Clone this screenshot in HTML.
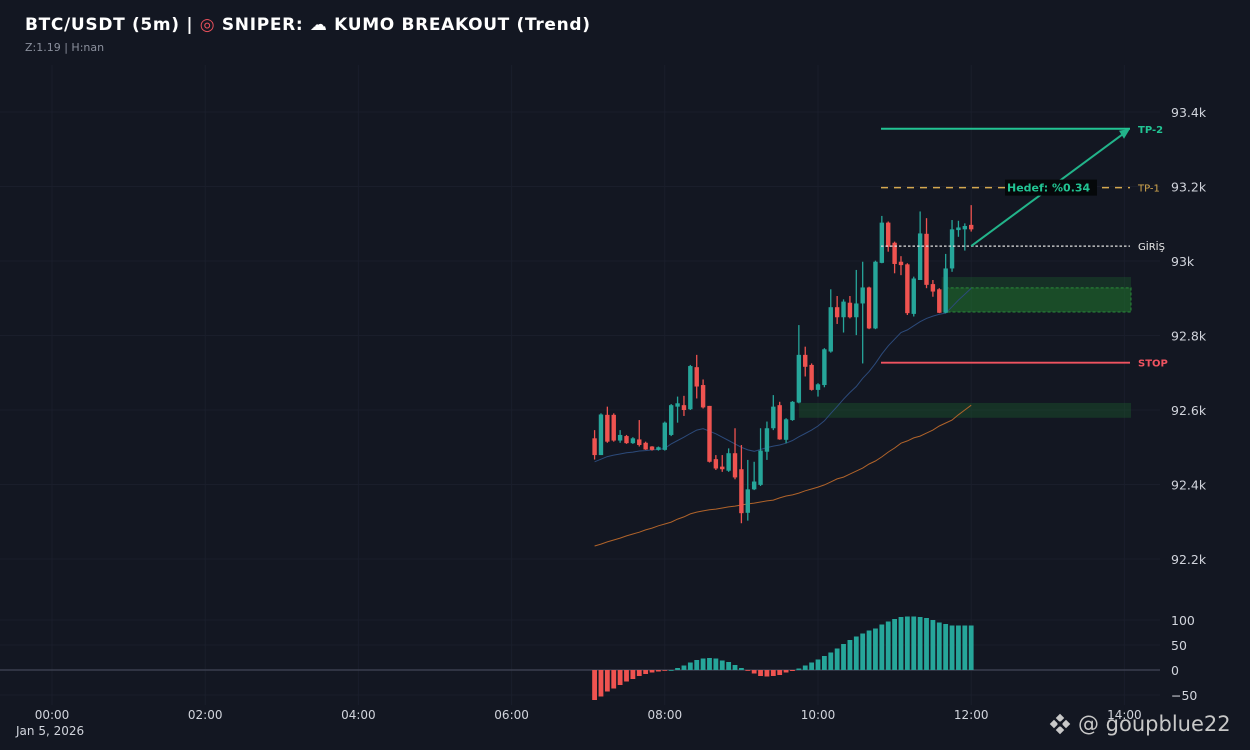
<!DOCTYPE html>
<html><head><meta charset="utf-8">
<style>
html,body{margin:0;padding:0;background:#131722;}
body{width:1250px;height:750px;overflow:hidden;font-family:"DejaVu Sans","Liberation Sans",sans-serif;}
svg{display:block}
</style></head>
<body>
<svg id="chart" width="1250" height="750" font-family="'DejaVu Sans','Liberation Sans',sans-serif">
  <rect x="0" y="0" width="1250" height="750" fill="#131722"/>
  <g id="grid"></g>
  <g id="zones"></g>
  <g id="mas"></g>
  <g id="candles"></g>
  <g id="hist"></g>
  <g id="levels"></g>
  <g id="axes"></g>
  <text x="25" y="30" fill="#ffffff" font-size="17" font-weight="bold" textLength="565" lengthAdjust="spacing">BTC/USDT (5m) | <tspan fill="#e8505b">◎</tspan> SNIPER: ☁ KUMO BREAKOUT (Trend)</text>
  <text x="25" y="51" fill="#8a8f9c" font-size="11">Z:1.19 | H:nan</text>
  <g>
    <g transform="translate(1060,724)" fill="#c8c8c8">
      <rect x="-3" y="-9" width="6" height="6" transform="rotate(45 0 -6)"/>
      <rect x="-3" y="3" width="6" height="6" transform="rotate(45 0 6)"/>
      <rect x="-9" y="-3" width="6" height="6" transform="rotate(45 -6 0)"/>
      <rect x="3" y="-3" width="6" height="6" transform="rotate(45 6 0)"/>
      <rect x="-2" y="-2" width="4" height="4" transform="rotate(45 0 0)" fill="#131722"/>
    </g>
    <text x="1078" y="731" fill="#c8c8c8" font-size="21">@ goupblue22</text>
  </g>
</svg>
<script>
// ---- data ----
const startMinutes = 425; // 07:05
const candleOpen = [92524,92479,92587,92587,92518,92530,92511,92521,92512,92502,92493,92493,92533,92609,92613,92602,92715,92667,92611,92468,92448,92437,92484,92441,92324,92387,92399,92488,92551,92613,92520,92573,92620,92748,92721,92654,92667,92757,92876,92849,92888,92849,92886,92929,92819,92995,93103,93049,92998,92991,92858,92949,93073,92938,92924,92861,92980,93083,93085,93097];
const candleHigh = [92546,92591,92609,92591,92546,92533,92527,92573,92515,92503,92502,92569,92616,92636,92638,92721,92748,92682,92611,92479,92479,92497,92551,92506,92466,92461,92551,92569,92640,92622,92578,92624,92828,92770,92725,92672,92766,92924,92906,92897,92906,92976,92998,92931,93001,93121,93106,93052,93013,92994,92958,93133,93115,92949,92927,93019,93110,93108,93101,93150];
const candleLow = [92467,92479,92512,92515,92512,92509,92509,92502,92493,92491,92491,92491,92530,92566,92584,92600,92631,92604,92459,92439,92434,92434,92414,92296,92303,92385,92396,92466,92546,92520,92511,92571,92618,92690,92652,92636,92661,92754,92831,92808,92846,92801,92725,92817,92817,92994,93025,92967,92962,92855,92851,92949,92927,92904,92860,92860,92971,93065,93028,93079];
const candleClose = [92479,92588,92515,92518,92533,92511,92524,92506,92494,92493,92500,92566,92613,92618,92600,92718,92663,92607,92461,92443,92441,92484,92419,92323,92387,92408,92491,92551,92609,92521,92575,92622,92748,92716,92654,92669,92763,92876,92849,92891,92849,92886,92929,92819,92998,93103,93038,92992,92989,92860,92953,93074,92936,92918,92861,92980,93085,93090,93094,93085];
const fastMA = [92461,92468,92475,92479,92482,92485,92487,92490,92491,92493,92494,92497,92509,92518,92527,92537,92546,92550,92543,92536,92527,92518,92509,92500,92493,92489,92494,92499,92503,92506,92511,92518,92528,92537,92546,92557,92571,92591,92609,92629,92647,92663,92685,92703,92725,92750,92772,92790,92808,92815,92826,92837,92846,92852,92857,92860,92877,92895,92911,92927];
const slowMA = [92235,92240,92246,92251,92256,92262,92267,92272,92278,92283,92289,92294,92299,92307,92313,92321,92326,92329,92332,92334,92337,92340,92342,92345,92348,92350,92353,92356,92358,92364,92369,92372,92377,92383,92388,92393,92399,92407,92415,92420,92428,92436,92444,92455,92463,92474,92487,92498,92511,92517,92525,92530,92538,92546,92557,92565,92573,92587,92600,92613];
const histValues = [-60,-53,-43,-37,-30,-23,-18,-12,-8,-5,-3,-1,0,4,9,15,20,23,24,23,19,16,10,4,-1,-7,-12,-13,-12,-10,-5,-2,3,9,15,21,28,35,43,52,60,67,73,79,83,91,97,102,106,107,107,106,104,100,95,92,89,89,89,89];
const priceTicks = [92200,92400,92600,92800,93000,93200,93400];
const priceTickLabels = ["92.2k","92.4k","92.6k","92.8k","93k","93.2k","93.4k"];
const histTicks = [-50,0,50,100];
const histTickLabels = ["−50","0","50","100"];
const timeTicks = [0,120,240,360,480,600,720,840];
const timeTickLabels = ["00:00","02:00","04:00","06:00","08:00","10:00","12:00","14:00"];
const levelEntry = 93040, levelTP1 = 93197, levelTP2 = 93355, levelStop = 92727;
const zoneUpper = [92863, 92957], zoneUpperInner = [92863, 92928], zoneLower = [92579, 92619];

// ---- scales ----
const NS='http://www.w3.org/2000/svg';
const xT = m => 52 + (m/60)*76.6;
const yP = p => 261 - (p-93000)*0.3725;
const yH = v => 670 - v*0.5;
function mk(tag, attrs, parent){const e=document.createElementNS(NS,tag);for(const k in attrs)e.setAttribute(k,attrs[k]);parent.appendChild(e);return e;}
const G=id=>document.getElementById(id);
const UP='#26a69a', DN='#ef5350';

timeTicks.forEach((t,i)=>{
  const x=xT(t);
  const l=mk('line',{x1:x,x2:x,y1:65,y2:705,stroke:'#1a1e2b','stroke-width':1},G('grid'));
  
  
  const tx=mk('text',{x:x,y:719,fill:'#d1d4dc','font-size':12,'text-anchor':'middle'},G('axes'));
  tx.textContent=timeTickLabels[i];
  
  
});
priceTicks.forEach((p,i)=>{
  const y=yP(p);
  const l=mk('line',{x1:0,x2:1160,y1:y,y2:y,stroke:'#1a1e2b','stroke-width':1},G('grid'));
  
  
  const tx=mk('text',{x:1171,y:y+5,fill:'#d1d4dc','font-size':12.5},G('axes'));
  tx.textContent=priceTickLabels[i];
  
  
});
histTicks.forEach((v,i)=>{
  const y=yH(v);
  const l=mk('line',{x1:0,x2:1160,y1:y,y2:y,stroke:v===0?'#3a3f4e':'#1a1e2b','stroke-width':v===0?1.5:1},G('grid'));
  
  
  const tx=mk('text',{x:1171,y:y+5,fill:'#d1d4dc','font-size':12.5},G('axes'));
  tx.textContent=histTickLabels[i];
  
  
});
const dl=mk('text',{x:16,y:735,fill:'#d1d4dc','font-size':12},G('axes'));
dl.textContent='Jan 5, 2026';



const zx1=xT(startMinutes+5*55), zx2=1131;
let z=mk('rect',{x:zx1-4,y:yP(zoneUpper[1]),width:zx2-zx1+4,height:yP(zoneUpper[0])-yP(zoneUpper[1]),fill:'rgba(30,110,50,0.3)'},G('zones'));


z=mk('rect',{x:zx1,y:yP(zoneUpperInner[1]),width:zx2-zx1,height:yP(zoneUpperInner[0])-yP(zoneUpperInner[1]),fill:'rgba(35,130,45,0.35)',stroke:'#2a8a3a','stroke-dasharray':'3,2','stroke-width':1},G('zones'));


z=mk('rect',{x:xT(startMinutes+5*32),y:yP(zoneLower[1]),width:zx2-xT(startMinutes+5*32),height:yP(zoneLower[0])-yP(zoneLower[1]),fill:'rgba(30,100,45,0.35)'},G('zones'));



function line(arr,color,name){
  const d=arr.map((v,i)=>(i?'L':'M')+xT(startMinutes+5*i).toFixed(1)+','+yP(v).toFixed(1)).join(' ');
  const p=mk('path',{d:d,fill:'none',stroke:color,'stroke-width':1},G('mas'));
  
  
}
line(fastMA,'#2c4a7a','fast-ma-line');
line(slowMA,'#b0632a','slow-ma-line');

candleOpen.forEach((o,i)=>{
  const c=candleClose[i], x=xT(startMinutes+5*i), col=c>=o?UP:DN;
  const g=mk('g',{},G('candles'));
  
  
  mk('line',{x1:x,x2:x,y1:yP(candleHigh[i]),y2:yP(candleLow[i]),stroke:col,'stroke-width':1.3},g);
  const yt=yP(Math.max(o,c)), yb=yP(Math.min(o,c));
  mk('rect',{x:x-2.2,y:yt,width:4.4,height:Math.max(1.2,yb-yt),fill:col},g);
});

histValues.forEach((v,i)=>{
  const x=xT(startMinutes+5*i), y0=yH(0), y1=yH(v);
  const r=mk('rect',{x:x-2.4,y:Math.min(y0,y1),width:4.8,height:Math.max(0.8,Math.abs(y1-y0)),fill:v>=0?UP:DN},G('hist'));
  
  
});

const L=G('levels'), lx1=881, lx2=1130;
function lvl(y,color,dash,w,name,label,lc,bold){
  const l=mk('line',{x1:lx1,x2:lx2,y1:y,y2:y,stroke:color,'stroke-width':w},L);
  if(dash)l.setAttribute('stroke-dasharray',dash);
  
  
  const t=mk('text',{x:1138,y:y+4,fill:lc,'font-size':10,'font-weight':bold?'bold':'normal'},L);
  t.textContent=label;
  
  
}
lvl(yP(levelTP2),'#22c493',null,2,'tp2','TP-2','#22c493',true);
lvl(yP(levelTP1),'#d4a84f','7,6',1.4,'tp1','TP-1','#d4a84f',false);
lvl(yP(levelEntry),'#e0e0e0','2.5,2',1.2,'entry','GİRİŞ','#e8e8e8',false);
lvl(yP(levelStop),'#ef5360',null,1.8,'stop','STOP','#ef5360',true);
const ax1=xT(startMinutes+5*59), ay1=yP(levelEntry), ax2=1130, ay2=yP(levelTP2);
const ar=mk('line',{x1:ax1,y1:ay1,x2:ax2-4,y2:ay2+3,stroke:'#22b48a','stroke-width':2},L);


const ah=mk('path',{d:`M${ax2},${ay2} l-11,2 l5,8 z`,fill:'#22b48a'},L);


const hb=mk('rect',{x:1005,y:yP(levelTP1)-8,width:92,height:16,fill:'#05080a'},L);


const ht=mk('text',{x:1007,y:yP(levelTP1)+4,fill:'#22c493','font-size':11,'font-weight':'bold'},L);
ht.textContent='Hedef: %0.34';


</script>
</body></html>
